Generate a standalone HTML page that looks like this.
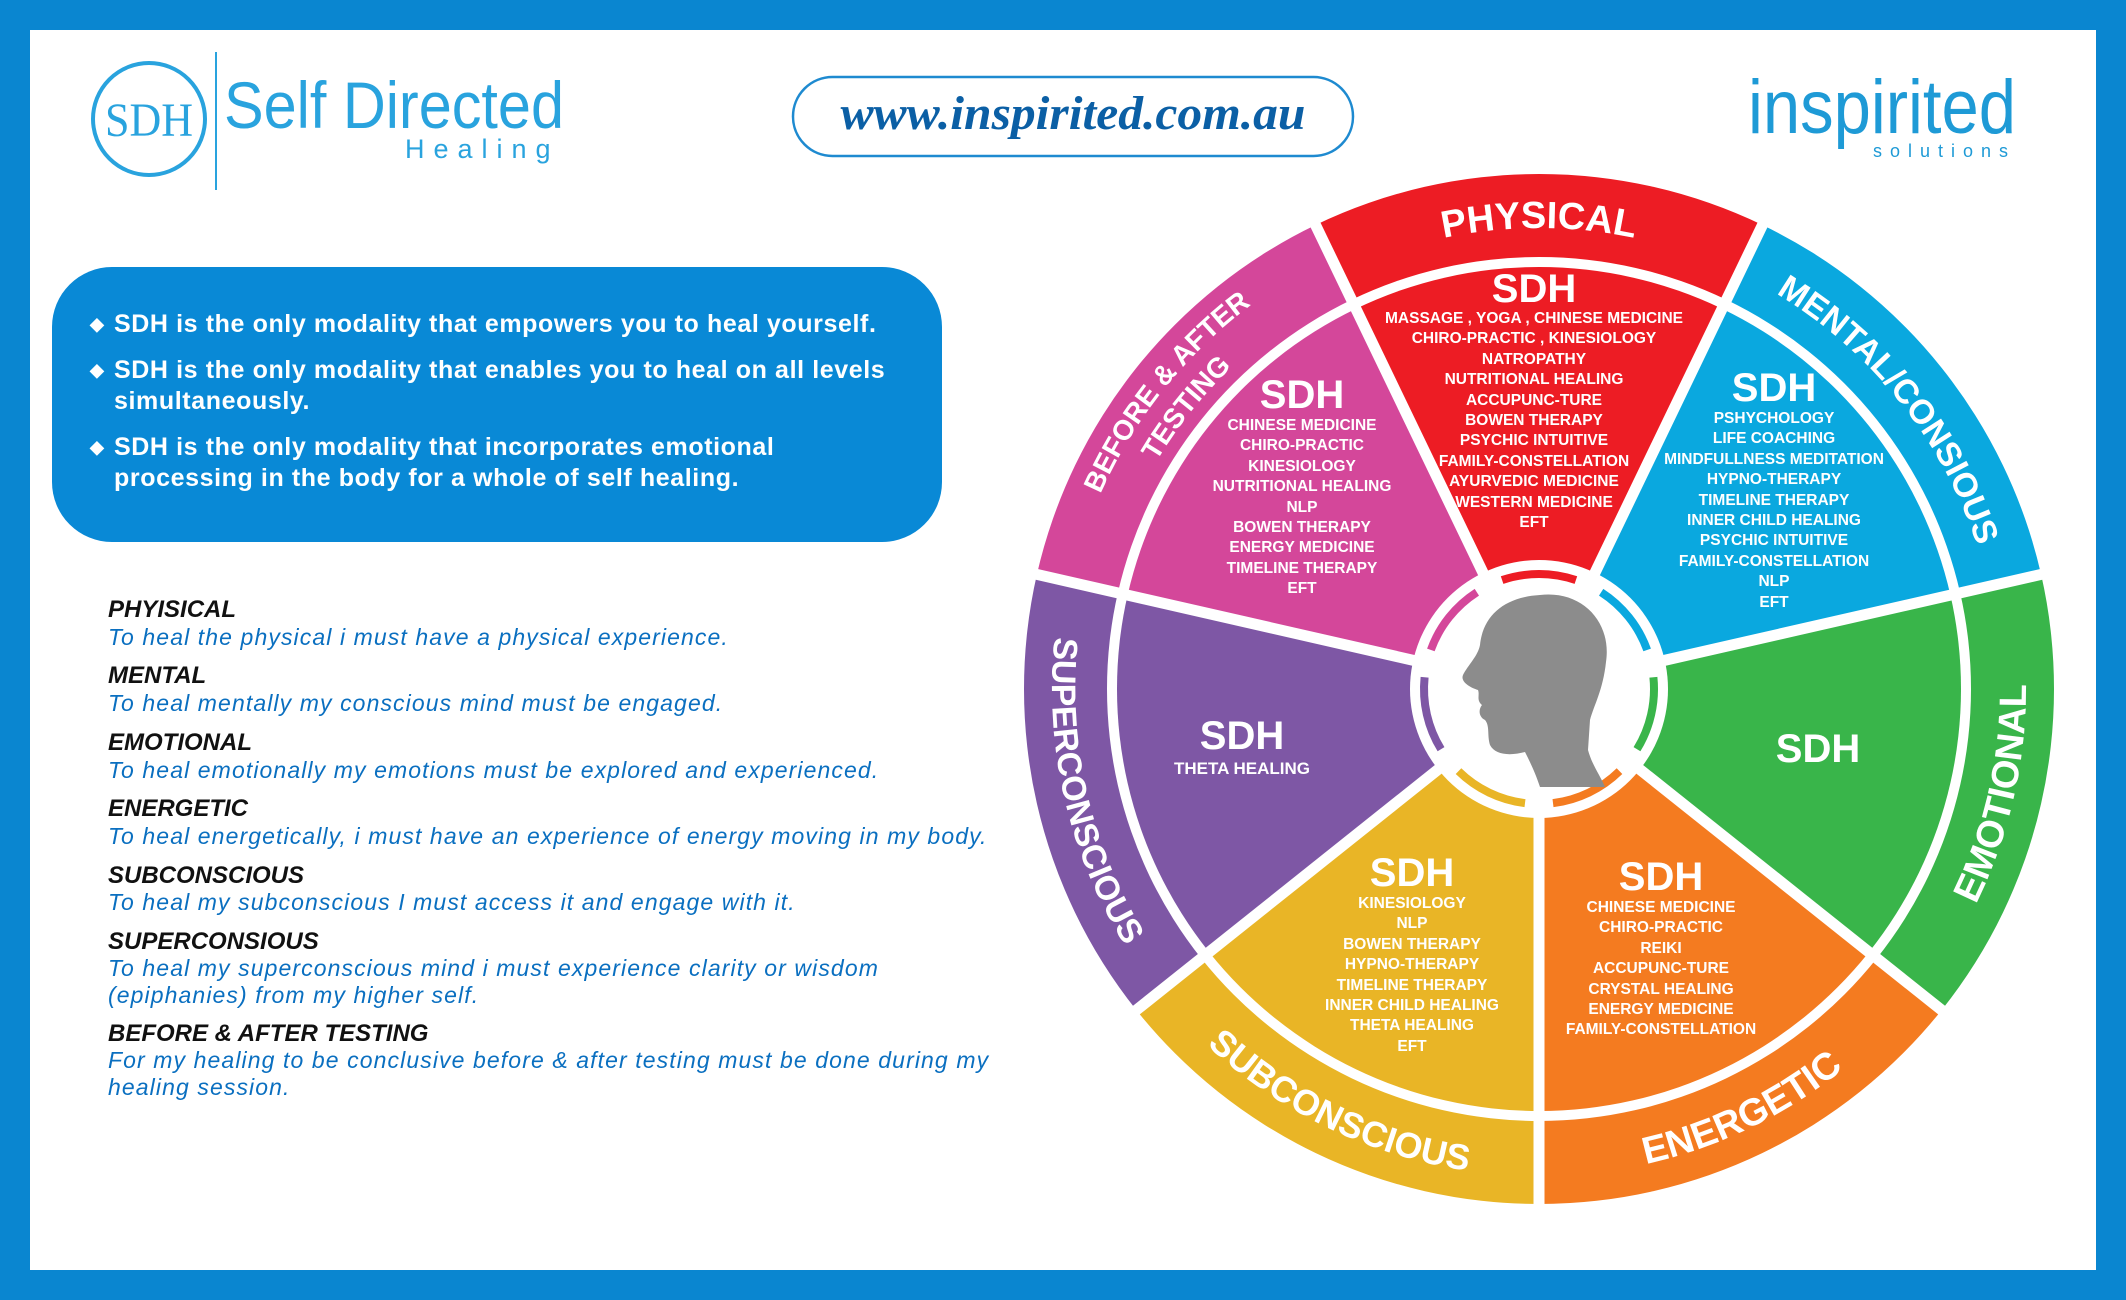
<!DOCTYPE html>
<html><head><meta charset="utf-8">
<style>
*{margin:0;padding:0;box-sizing:border-box}
body{width:2126px;height:1300px;background:#0a86d0;position:relative;overflow:hidden;font-family:"Liberation Sans",sans-serif}
#inner{position:absolute;left:30px;top:30px;width:2066px;height:1240px;background:#fff}
.abs{position:absolute}
.box{left:52px;top:267px;width:890px;height:275px;background:#0989d6;border-radius:60px}
.bul{color:#fff;font-size:25px;font-weight:bold;left:90px;line-height:31px;width:850px;padding-left:24px;letter-spacing:0.6px}
.bul span{position:absolute;left:0;font-size:18px}
.h{font-weight:bold;font-style:italic;font-size:24px;color:#111;left:108px;white-space:nowrap}
.t{font-style:italic;font-size:23px;color:#0a6fc0;left:108px;white-space:nowrap;line-height:27px;letter-spacing:1.1px}
.st{font-weight:bold;color:#fff;text-align:center;font-size:15.5px;line-height:20.4px;white-space:nowrap;transform:translateX(-50%)}
.sdh{font-weight:bold;color:#fff;font-size:40px;text-align:center;transform:translateX(-50%);line-height:40px}
</style></head><body>
<div id="inner"></div>

<svg class="abs" style="left:0;top:0" width="2126" height="200">
<circle cx="149" cy="119" r="56" fill="none" stroke="#29a3de" stroke-width="4"/>
<text x="149" y="136" text-anchor="middle" font-family="Liberation Serif,serif" font-size="48" fill="#29a3de" textLength="88" lengthAdjust="spacingAndGlyphs">SDH</text>
<line x1="216" y1="52" x2="216" y2="190" stroke="#29a3de" stroke-width="2"/>
<text x="224" y="128" font-family="Liberation Sans,sans-serif" font-size="66" fill="#29a3de" textLength="340" lengthAdjust="spacingAndGlyphs">Self Directed</text>
<text x="405" y="158" font-family="Liberation Sans,sans-serif" font-size="27" fill="#29a3de" letter-spacing="9">Healing</text>
<rect x="793" y="77" width="560" height="79" rx="39.5" fill="none" stroke="#1e8ad0" stroke-width="2.5"/>
<text x="1073" y="129" text-anchor="middle" font-family="Liberation Serif,serif" font-weight="bold" font-style="italic" font-size="48" fill="#0b5fa5" textLength="465" lengthAdjust="spacingAndGlyphs">www.inspirited.com.au</text>
<text x="2016" y="133" text-anchor="end" font-family="Liberation Sans,sans-serif" font-size="76" fill="#1e9ad6" textLength="268" lengthAdjust="spacingAndGlyphs">inspirited</text>
<text x="2016" y="157" text-anchor="end" font-family="Liberation Sans,sans-serif" font-size="18" fill="#1e9ad6" letter-spacing="8">solutions</text>
</svg>

<div class="abs box"></div>
<div class="abs bul" style="top:309px"><span>◆</span>SDH is the only modality that empowers you to heal yourself.</div>
<div class="abs bul" style="top:355px"><span>◆</span>SDH is the only modality that enables you to heal on all levels<br>simultaneously.</div>
<div class="abs bul" style="top:432px"><span>◆</span>SDH is the only modality that incorporates emotional<br>processing in the body for a whole of self healing.</div>

<div class="abs h" style="top:596px">PHYISICAL</div>
<div class="abs t" style="top:624px">To heal the physical i must have a physical experience.</div>
<div class="abs h" style="top:662px">MENTAL</div>
<div class="abs t" style="top:690px">To heal mentally my conscious mind must be engaged.</div>
<div class="abs h" style="top:729px">EMOTIONAL</div>
<div class="abs t" style="top:757px">To heal emotionally my emotions must be explored and experienced.</div>
<div class="abs h" style="top:795px">ENERGETIC</div>
<div class="abs t" style="top:823px">To heal energetically, i must have an experience of energy moving in my body.</div>
<div class="abs h" style="top:862px">SUBCONSCIOUS</div>
<div class="abs t" style="top:889px">To heal my subconscious I must access it and engage with it.</div>
<div class="abs h" style="top:928px">SUPERCONSIOUS</div>
<div class="abs t" style="top:955px">To heal my superconscious mind i must experience clarity or wisdom<br>(epiphanies) from my higher self.</div>
<div class="abs h" style="top:1020px">BEFORE &amp; AFTER TESTING</div>
<div class="abs t" style="top:1047px">For my healing to be conclusive before &amp; after testing must be done during my<br>healing session.</div>

<svg id="wheel" class="abs" style="left:0;top:0" width="2126" height="1300" font-family="Liberation Sans,sans-serif">
<defs id="defs"></defs>
<g id="segs"></g>
<path d="M1540 595 C1582 590 1612 622 1606 662 C1603 690 1594 705 1590 720 L1588 750 C1592 765 1600 775 1605 787 L1540 787 C1535 772 1530 762 1525 752 C1510 756 1495 755 1490 745 C1487 735 1490 726 1485 720 C1479 717 1478 710 1482 705 C1476 700 1480 695 1478 690 C1471 688 1460 682 1463 675 C1468 665 1478 656 1480 645 C1483 615 1505 597 1540 595 Z" fill="#8c8c8c"/>
<g font-weight="bold" fill="#fff">
<text font-size="38" text-anchor="middle"><textPath href="#p0" startOffset="50%">PHYSICAL</textPath></text>
<text font-size="34" text-anchor="middle"><textPath href="#p1" startOffset="50%">MENTAL/CONSIOUS</textPath></text>
<text font-size="38" text-anchor="middle"><textPath href="#p2" startOffset="50%">EMOTIONAL</textPath></text>
<text font-size="38" text-anchor="middle"><textPath href="#p3" startOffset="50%">ENERGETIC</textPath></text>
<text font-size="36" text-anchor="middle"><textPath href="#p4" startOffset="50%">SUBCONSCIOUS</textPath></text>
<text font-size="34" text-anchor="middle"><textPath href="#p5" startOffset="50%">SUPERCONSCIOUS</textPath></text>
<text font-size="28" text-anchor="middle"><textPath href="#p6a" startOffset="50%">BEFORE &amp; AFTER</textPath></text>
<text font-size="28" text-anchor="middle"><textPath href="#p6b" startOffset="50%">TESTING</textPath></text>
</g>
</svg>

<div class="abs sdh" style="left:1534px;top:269px">SDH</div>
<div class="abs st" style="left:1534px;top:309px">MASSAGE , YOGA , CHINESE MEDICINE<br>CHIRO-PRACTIC , KINESIOLOGY<br>NATROPATHY<br>NUTRITIONAL HEALING<br>ACCUPUNC-TURE<br>BOWEN THERAPY<br>PSYCHIC INTUITIVE<br>FAMILY-CONSTELLATION<br>AYURVEDIC MEDICINE<br>WESTERN MEDICINE<br>EFT</div>
<div class="abs sdh" style="left:1774px;top:368px">SDH</div>
<div class="abs st" style="left:1774px;top:409px">PSHYCHOLOGY<br>LIFE COACHING<br>MINDFULLNESS MEDITATION<br>HYPNO-THERAPY<br>TIMELINE THERAPY<br>INNER CHILD HEALING<br>PSYCHIC INTUITIVE<br>FAMILY-CONSTELLATION<br>NLP<br>EFT</div>
<div class="abs sdh" style="left:1302px;top:375px">SDH</div>
<div class="abs st" style="left:1302px;top:416px">CHINESE MEDICINE<br>CHIRO-PRACTIC<br>KINESIOLOGY<br>NUTRITIONAL HEALING<br>NLP<br>BOWEN THERAPY<br>ENERGY MEDICINE<br>TIMELINE THERAPY<br>EFT</div>
<div class="abs sdh" style="left:1242px;top:716px">SDH</div>
<div class="abs st" style="left:1242px;top:759px;font-size:17px">THETA HEALING</div>
<div class="abs sdh" style="left:1818px;top:729px">SDH</div>
<div class="abs sdh" style="left:1412px;top:853px">SDH</div>
<div class="abs st" style="left:1412px;top:894px">KINESIOLOGY<br>NLP<br>BOWEN THERAPY<br>HYPNO-THERAPY<br>TIMELINE THERAPY<br>INNER CHILD HEALING<br>THETA HEALING<br>EFT</div>
<div class="abs sdh" style="left:1661px;top:857px">SDH</div>
<div class="abs st" style="left:1661px;top:898px">CHINESE MEDICINE<br>CHIRO-PRACTIC<br>REIKI<br>ACCUPUNC-TURE<br>CRYSTAL HEALING<br>ENERGY MEDICINE<br>FAMILY-CONSTELLATION</div>

<script>
(function(){
var cx=1539,cy=689,NS="http://www.w3.org/2000/svg";
var cols=["#ed1c24","#0aa8df","#39b54a","#f47b20","#e9b526","#7e57a5","#d4479a"];
var step=360/7;
function pt(r,a){a=a*Math.PI/180;return [(cx+r*Math.sin(a)).toFixed(2),(cy-r*Math.cos(a)).toFixed(2)];}
var g=document.getElementById("segs"),d=document.getElementById("defs");
function add(par,tag,at){var e=document.createElementNS(NS,tag);for(var k in at)e.setAttribute(k,at[k]);par.appendChild(e);return e;}
for(var i=0;i<7;i++){
 var a0=-step/2+i*step,a1=a0+step;
 var o0=pt(515,a0),o1=pt(515,a1),i0=pt(432,a0),i1=pt(432,a1);
 add(g,"path",{d:"M"+o0+" A515 515 0 0 1 "+o1+" L"+i1+" A432 432 0 0 0 "+i0+"Z",fill:cols[i]});
 var s0=pt(422,a0),s1=pt(422,a1);
 add(g,"path",{d:"M"+cx+" "+cy+" L"+s0+" A422 422 0 0 1 "+s1+"Z",fill:cols[i]});
}
for(var i=0;i<7;i++){var a0=-step/2+i*step;var p=pt(530,a0);add(g,"line",{x1:cx,y1:cy,x2:p[0],y2:p[1],stroke:"#fff","stroke-width":11});}
add(g,"circle",{cx:cx,cy:cy,r:129,fill:"#fff"});
for(var i=0;i<7;i++){var a0=-step/2+i*step+7,a1=a0+step-14;var p0=pt(115,a0),p1=pt(115,a1);
 add(g,"path",{d:"M"+p0+" A115 115 0 0 1 "+p1,fill:"none",stroke:cols[i],"stroke-width":8});}
function arc(id,r,a0,a1,cw){var p0=pt(r,cw?a0:a1),p1=pt(r,cw?a1:a0);
 add(d,"path",{id:id,d:"M"+p0+" A"+r+" "+r+" 0 0 "+(cw?1:0)+" "+p1});}
for(var i=0;i<7;i++){var c=i*step,a0=c-step/2-5,a1=c+step/2+5;
 if(i==0||i==1) arc("p"+i,461,a0,a1,true);
 else if(i==6){arc("p6a",480,a0,a1,true);arc("p6b",445,a0,a1,true);}
 else arc("p"+i,487,a0,a1,false);}
})();
</script>
</body></html>
